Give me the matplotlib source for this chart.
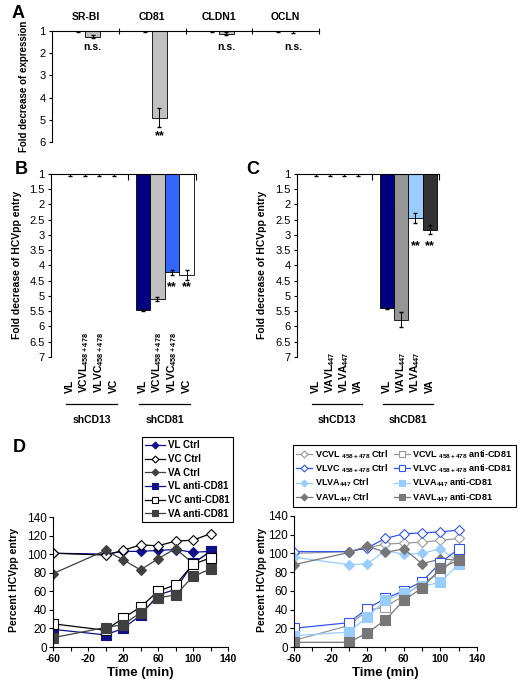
import matplotlib
matplotlib.use('Agg')
import matplotlib.pyplot as plt
from matplotlib.lines import Line2D
from matplotlib.transforms import blended_transform_factory as blend

plt.rcParams['font.family'] = ['Liberation Sans', 'DejaVu Sans']
plt.rcParams['mathtext.fontset'] = 'custom'
plt.rcParams['mathtext.rm'] = 'Liberation Sans:bold'
plt.rcParams['mathtext.bf'] = 'Liberation Sans:bold'
plt.rcParams['mathtext.default'] = 'bf'
plt.rcParams['axes.linewidth'] = 0.8
plt.rcParams['axes.unicode_minus'] = False

# --- panel A data
receptors = ['SR-BI', 'CD81', 'CLDN1', 'OCLN']
ctrl_expr = [1, 1, 1, 1]
ctrl_expr_err = [0.05, 0.04, 0.04, 0.04]
kd_expr = [1.25, 4.9, 1.12, 1.02]
kd_expr_err = [0.06, 0.42, 0.08, 0.06]
expr_marks = ['n.s.', '**', 'n.s.', 'n.s.']

# --- panel B data
sh_groups = ['shCD13', 'shCD81']
b_names = ['VL', 'VCVL$_{458+478}$', 'VLVC$_{458+478}$', 'VC']
b_shcd13 = [1, 1, 1, 1]
b_shcd13_err = [0.06, 0.08, 0.06, 0.08]
b_shcd81 = [5.45, 5.1, 4.22, 4.3]
b_shcd81_err = [0.03, 0.08, 0.08, 0.16]
b_colors = ['#000080', '#c0c0c0', '#3366ff', 'white']

# --- panel C data
c_names = ['VL', 'VAVL$_{447}$', 'VLVA$_{447}$', 'VA']
c_shcd13 = [1, 1, 1, 1]
c_shcd13_err = [0.05, 0.08, 0.05, 0.05]
c_shcd81 = [5.4, 5.78, 2.45, 2.82]
c_shcd81_err = [0.02, 0.25, 0.16, 0.16]
c_colors = ['#000080', '#969696', '#99ccff', '#333333']

# --- panel D data
times = [-60, 0, 20, 40, 60, 80, 100, 120]
vl_ctrl = [101, 100, 103, 103, 104, 105, 102, 103]
vc_ctrl = [101, 99, 104, 110, 109, 114, 115, 122]
va_ctrl = [79, 104, 94, 83, 95, 106, 90, 103]
vl_anti = [19, 13, 20, 34, 56, 62, 90, 103]
vc_anti = [25, 18, 31, 43, 60, 67, 89, 96]
va_anti = [10, 21, 24, 37, 53, 56, 76, 84]

vcvl_ctrl = [100, 102, 106, 110, 111, 112, 114, 116]
vlvc_ctrl = [102, 102, 106, 116, 121, 122, 123, 125]
vlva_ctrl = [96, 88, 89, 103, 99, 100, 105, 91]
vavl_ctrl = [88, 101, 108, 101, 105, 89, 94, 93]
vcvl_anti = [7, 23, 39, 43, 55, 68, 79, 100]
vlvc_anti = [20, 26, 41, 52, 60, 70, 90, 105]
vlva_anti = [12, 16, 32, 50, 58, 65, 69, 89]
vavl_anti = [5, 5, 15, 29, 50, 63, 84, 93]

W, H = 530, 691
fig = plt.figure(figsize=(W / 100, H / 100), dpi=100)


def px_axes(l, r, t, b):
    return fig.add_axes([l / W, 1 - b / H, (r - l) / W, (b - t) / H])


def fy(y):
    return 1 - y / H


# ================= A
axA = px_axes(52, 319, 31, 142)
for i in range(4):
    axA.bar(i - 0.11, ctrl_expr[i] - 1, bottom=1, width=0.22, color='#c0c0c0', edgecolor='black', lw=0.6)
    axA.errorbar(i - 0.11, ctrl_expr[i], yerr=ctrl_expr_err[i], color='black', capsize=1.5, lw=0.7)
    axA.bar(i + 0.11, kd_expr[i] - 1, bottom=1, width=0.22, color='#c0c0c0', edgecolor='black', lw=0.6)
    axA.errorbar(i + 0.11, kd_expr[i], yerr=kd_expr_err[i], color='black', capsize=1.5, lw=0.7)
    axA.text(i, 1.13, receptors[i], transform=blend(axA.transData, axA.transAxes),
             ha='center', va='center', fontsize=7.5, fontweight='bold')
    if expr_marks[i] == '**':
        axA.text(i + 0.11, 5.72, '**', ha='center', va='center', fontsize=9, fontweight='bold')
    else:
        axA.text(i + 0.11, 1.72, expr_marks[i], ha='center', va='center', fontsize=7.5, fontweight='bold')
axA.set_xlim(-0.5, 3.5)
axA.set_ylim(6, 1)
axA.set_yticks([1, 2, 3, 4, 5, 6])
axA.set_xticks([0.5, 1.5, 2.5, 3.5])
axA.tick_params(axis='x', top=True, bottom=False, labeltop=False, labelbottom=False,
                direction='inout', length=4, width=0.8)
axA.tick_params(axis='y', direction='out', length=2.5, labelsize=8, pad=2)
axA.spines['bottom'].set_visible(False)
axA.spines['right'].set_visible(False)
fig.text(24 / W, fy(86), 'Fold decrease of expression', rotation=90, ha='center', va='center',
         fontsize=7, fontweight='bold')
fig.text(12 / W, fy(13), 'A', fontsize=13, fontweight='bold', ha='left', va='center')


# ================= B and C
def sh_panel(ax, names, v13, e13, v81, e81, colors, stars, star_y, ylab_x):
    offsets = [-0.3, -0.1, 0.1, 0.3]
    for g, (vals, errs) in enumerate([(v13, e13), (v81, e81)]):
        for i in range(4):
            x = g + offsets[i]
            if vals[i] > 1:
                ax.bar(x, vals[i] - 1, bottom=1, width=0.2, color=colors[i], edgecolor='black', lw=0.6)
            ax.errorbar(x, vals[i], yerr=errs[i], color='black', capsize=1.5, lw=0.7)
            ax.text(x, fy(393), names[i], rotation=90, ha='center', va='bottom',
                    transform=blend(ax.transData, fig.transFigure), fontsize=7.5, fontweight='bold')
        ax.plot([g - 0.35, g + 0.35], [fy(404), fy(404)], color='black', lw=0.9, clip_on=False,
                transform=blend(ax.transData, fig.transFigure))
        ax.text(g, fy(420), sh_groups[g], ha='center', va='center', fontsize=7.5, fontweight='bold',
                transform=blend(ax.transData, fig.transFigure))
    for i in stars:
        ax.text(1 + offsets[i], star_y, '**', ha='center', va='center', fontsize=9, fontweight='bold')
    ax.set_xlim(-0.56, 1.43)
    ax.set_ylim(7, 1)
    ax.set_yticks([1, 1.5, 2, 2.5, 3, 3.5, 4, 4.5, 5, 5.5, 6, 6.5, 7])
    ax.set_yticklabels(['1', '1.5', '2', '2.5', '3', '3.5', '4', '4.5', '5', '5.5', '6', '6.5', '7'])
    ax.set_xticks([0.49, 1.43])
    ax.tick_params(axis='x', top=True, bottom=False, labeltop=False, labelbottom=False,
                   direction='in', length=4, width=0.8)
    ax.tick_params(axis='y', direction='out', length=2.5, labelsize=8, pad=2)
    ax.spines['bottom'].set_visible(False)
    ax.spines['right'].set_visible(False)
    fig.text(ylab_x / W, fy(265), 'Fold decrease of HCVpp entry', rotation=90, ha='center', va='center',
             fontsize=7.5, fontweight='bold')


axB = px_axes(51, 196, 174, 357)
sh_panel(axB, b_names, b_shcd13, b_shcd13_err, b_shcd81, b_shcd81_err, b_colors, [2, 3], 4.72, 17)
fig.text(15 / W, fy(170), 'B', fontsize=13, fontweight='bold', ha='left', va='center')

axC = px_axes(297, 439, 174, 357)
sh_panel(axC, c_names, c_shcd13, c_shcd13_err, c_shcd81, c_shcd81_err, c_colors, [2, 3], 3.38, 262)
fig.text(246 / W, fy(170), 'C', fontsize=13, fontweight='bold', ha='left', va='center')


# ================= D
def time_axes(ax, ylab_x, xc):
    ax.set_xlim(-60, 140)
    ax.set_ylim(0, 140)
    ax.set_xticks([-60, -20, 20, 60, 100, 140])
    ax.set_xticks([-40, 0, 40, 80, 120], minor=True)
    ax.set_yticks([0, 20, 40, 60, 80, 100, 120, 140])
    ax.tick_params(axis='both', which='both', direction='out', length=3, width=0.8)
    ax.tick_params(axis='x', labelsize=7.5, pad=2)
    ax.tick_params(axis='y', labelsize=8.5, pad=1.5)
    for lab in ax.get_xticklabels():
        lab.set_fontweight('bold')
    ax.spines['top'].set_visible(False)
    ax.spines['right'].set_visible(False)
    fig.text(ylab_x / W, fy(580), 'Percent HCVpp entry', rotation=90, ha='center', va='center',
             fontsize=7.5, fontweight='bold')
    fig.text(xc / W, fy(673), 'Time (min)', ha='center', va='center', fontsize=9.5, fontweight='bold')


def series(ax, y, color, marker, face, edge, ms):
    ax.plot(times, y, color=color, lw=0.9, marker=marker, ms=ms, mfc=face, mec=edge, mew=0.8)
    return Line2D([], [], color=color, lw=0.9, marker=marker, ms=ms * 0.7, mfc=face, mec=edge, mew=0.8)


axD1 = px_axes(53, 228, 517, 647)
navy = '#10108a'
dark = '#404040'
h1 = [
    series(axD1, vl_ctrl, navy, 'D', navy, navy, 5),
    series(axD1, vc_ctrl, 'black', 'D', 'white', 'black', 5),
    series(axD1, va_ctrl, dark, 'D', dark, dark, 5),
    series(axD1, vl_anti, navy, 's', navy, navy, 6.5),
    series(axD1, vc_anti, 'black', 's', 'white', 'black', 6.5),
    series(axD1, va_anti, dark, 's', dark, dark, 6.5),
]
l1 = ['VL Ctrl', 'VC Ctrl', 'VA Ctrl', 'VL anti-CD81', 'VC anti-CD81', 'VA anti-CD81']
time_axes(axD1, 14, 140)
fig.legend(h1, l1, loc='upper left', bbox_to_anchor=(142 / W, fy(437)), borderaxespad=0,
           fancybox=False, edgecolor='black', framealpha=1, prop={'weight': 'bold', 'size': 7},
           handlelength=2.0, handletextpad=0.3, labelspacing=0.38, borderpad=0.35).get_frame().set_linewidth(0.8)
fig.text(13 / W, fy(447), 'D', fontsize=13, fontweight='bold', ha='left', va='center')

axD2 = px_axes(294, 477, 516, 647)
gray = '#999999'
blue = '#3355ee'
lblue = '#99ccff'
dgray = '#777777'
h2 = [
    series(axD2, vcvl_ctrl, gray, 'D', 'white', gray, 5),
    series(axD2, vlvc_ctrl, blue, 'D', 'white', blue, 5),
    series(axD2, vlva_ctrl, lblue, 'D', lblue, lblue, 5),
    series(axD2, vavl_ctrl, dgray, 'D', dgray, dgray, 5),
    series(axD2, vcvl_anti, gray, 's', 'white', gray, 6.5),
    series(axD2, vlvc_anti, blue, 's', 'white', blue, 6.5),
    series(axD2, vlva_anti, lblue, 's', lblue, lblue, 6.5),
    series(axD2, vavl_anti, dgray, 's', dgray, dgray, 6.5),
]
l2 = ['VCVL $_{458+478}$ Ctrl', 'VLVC $_{458+478}$ Ctrl', 'VLVA$_{447}$ Ctrl', 'VAVL$_{447}$ Ctrl',
      'VCVL $_{458+478}$ anti-CD81', 'VLVC $_{458+478}$ anti-CD81', 'VLVA$_{447}$ anti-CD81',
      'VAVL$_{447}$ anti-CD81']
time_axes(axD2, 262, 385)
fig.legend(h2, l2, loc='upper left', bbox_to_anchor=(293 / W, fy(445)), borderaxespad=0, ncol=2,
           fancybox=False, edgecolor='black', framealpha=1, prop={'weight': 'bold', 'size': 6.5},
           handlelength=1.8, handletextpad=0.25, labelspacing=0.2, borderpad=0.35,
           columnspacing=0.6).get_frame().set_linewidth(0.8)

fig.savefig('out.png', dpi=100)
